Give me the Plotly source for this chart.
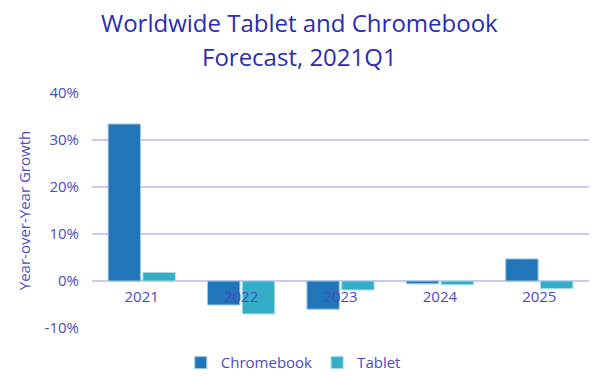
import plotly.graph_objects as go

years = ["2021", "2022", "2023", "2024", "2025"]
chromebook = [33.4, -5.1, -6.0, -0.6, 4.7]
tablet = [1.8, -7.0, -1.9, -0.8, -1.6]
y_ticks = [-10, 0, 10, 20, 30, 40]
y_tick_labels = ["-10%", "0%", "10%", "20%", "30%", "40%"]
title_lines = ["Worldwide Tablet and Chromebook", "Forecast, 2021Q1"]

text_color = "#4B4BC4"
grid_color = "#C9C9F4"

fig = go.Figure()
fig.add_trace(go.Bar(name="Chromebook", x=years, y=chromebook,
                     marker=dict(color="#2176BA", line=dict(color="#9EC6E6", width=1))))
fig.add_trace(go.Bar(name="Tablet", x=years, y=tablet,
                     marker=dict(color="#33AEC6", line=dict(color="#A4DCE6", width=1))))

for line, ypos in zip(title_lines, [1.302, 1.157]):
    fig.add_annotation(text=line, xref="paper", yref="paper", x=0.417, y=ypos,
                       xanchor="center", yanchor="middle", showarrow=False,
                       font=dict(family="Open Sans", size=24, color="#2B2BB5"))

fig.update_layout(
    width=597, height=376,
    margin=dict(l=92, r=8, t=93, b=48),
    paper_bgcolor="white", plot_bgcolor="white",
    font=dict(family="Open Sans", color=text_color, size=15),
    barmode="group", bargap=0.3, bargroupgap=0.07,
    showlegend=True,
    legend=dict(orientation="h", x=0.405, xanchor="center", yref="container",
                y=0.035, yanchor="middle",
                font=dict(size=15, color=text_color),
                traceorder="normal"),
)
fig.update_yaxes(range=[-10, 40], tickvals=y_ticks, ticktext=y_tick_labels,
                 showgrid=True, gridcolor=grid_color, gridwidth=1.5,
                 zeroline=True, zerolinecolor=grid_color, zerolinewidth=2,
                 title=dict(text="Year-over-Year Growth", font=dict(size=15, color=text_color), standoff=10),
                 ticks="", showline=False, fixedrange=True, ticklabelstandoff=12,
                 tickfont=dict(size=15, color=text_color), automargin=False)
fig.update_xaxes(anchor="free", position=0.2, showline=False, ticks="",
                 showgrid=False, tickfont=dict(size=15, color=text_color),
                 ticklabelstandoff=5, automargin=False)

fig.write_html("out.html")
